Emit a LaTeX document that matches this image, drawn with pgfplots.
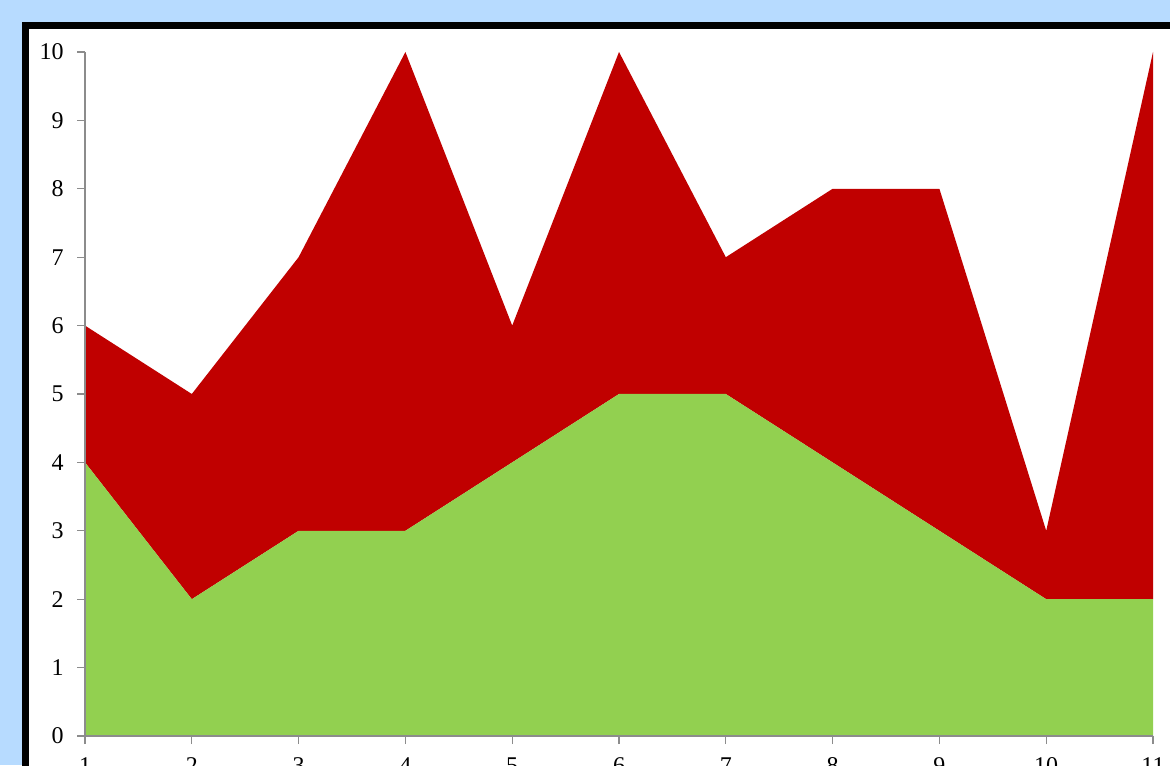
\documentclass[border=0pt]{standalone}
\usepackage{pgfplots}
\pgfplotsset{compat=1.18}
\usepackage{fontspec}
\setmainfont{Liberation Serif}
\definecolor{bgblue}{HTML}{B7DBFF}
\definecolor{cgreen}{HTML}{92D050}
\definecolor{cred}{HTML}{C00000}
\definecolor{axgray}{HTML}{8C8C8C}
\begin{document}
\begin{tikzpicture}
\useasboundingbox (0,0) rectangle (585pt,382.5pt);
\clip (0,0) rectangle (585pt,382.5pt);
\fill[bgblue] (0,0) rectangle (585pt,382.5pt);
\fill[black] (11pt,-20pt) rectangle (620pt,371.5pt);
\fill[white] (14.5pt,-20pt) rectangle (620pt,368pt);
\begin{axis}[
  at={(42.5pt,14.5pt)}, anchor=south west,
  scale only axis, width=534pt, height=342pt,
  xmin=1, xmax=11, ymin=0, ymax=10,
  xtick={1,...,11}, ytick={0,...,10},
  axis x line*=bottom, axis y line*=left,
  axis line style={axgray, line width=0.6pt, -},
  tick style={axgray, line width=0.6pt},
  tick align=outside, major tick length=4pt,
  ticklabel style={font=\fontsize{12}{14}\selectfont, text=black},
  yticklabel style={inner sep=0pt, xshift=-6.5pt},
  xticklabel style={inner sep=0pt, yshift=-6.5pt},
  /pgf/number format/assume math mode=true,
  stack plots=y, axis on top,
]
\addplot[draw=none, fill=cgreen] coordinates {(1,4) (2,2) (3,3) (4,3) (5,4) (6,5) (7,5) (8,4) (9,3) (10,2) (11,2)} \closedcycle;
\addplot[draw=none, fill=cred] coordinates {(1,2) (2,3) (3,4) (4,7) (5,2) (6,5) (7,2) (8,4) (9,5) (10,1) (11,8)} \closedcycle;
\end{axis}
\end{tikzpicture}
\end{document}
